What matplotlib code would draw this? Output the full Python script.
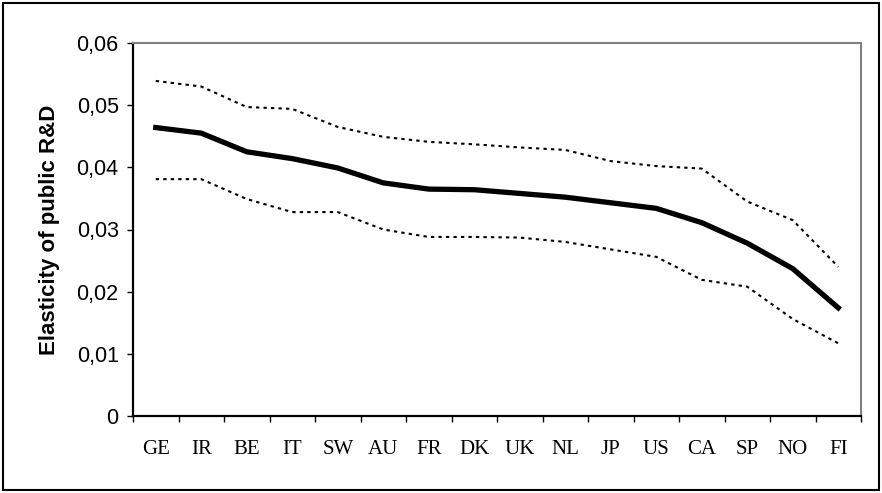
import matplotlib.pyplot as plt
import matplotlib.patches as patches
import numpy as np
from matplotlib.ticker import FuncFormatter, FixedLocator

# Countries ordered by estimated elasticity
countries = ['GE', 'IR', 'BE', 'IT', 'SW', 'AU', 'FR', 'DK',
             'UK', 'NL', 'JP', 'US', 'CA', 'SP', 'NO', 'FI']
elasticity = [0.0464, 0.0455, 0.0425, 0.0414, 0.0399, 0.0375, 0.0365, 0.0364,
              0.0358, 0.0352, 0.0343, 0.0334, 0.0311, 0.0278, 0.0237, 0.0174]
upper_band = [0.0539, 0.0530, 0.0497, 0.0494, 0.0465, 0.0449, 0.0441, 0.0437,
              0.0432, 0.0428, 0.0410, 0.0402, 0.0398, 0.0345, 0.0315, 0.0240]
lower_band = [0.0381, 0.0381, 0.0349, 0.0328, 0.0328, 0.0300, 0.0288, 0.0288,
              0.0287, 0.0280, 0.0268, 0.0256, 0.0219, 0.0208, 0.0156, 0.0117]

fig = plt.figure(figsize=(8.82, 4.93), dpi=100)
ax = fig.add_axes([133 / 882, 1 - 416 / 493, 728 / 882, 373 / 493])

# outer frame of the chart
fig.patches.append(patches.Rectangle((3 / 882, 3 / 493), 876 / 882, 487 / 493,
                                     transform=fig.transFigure, fill=False,
                                     edgecolor='black', linewidth=1.5))

x = np.arange(len(countries))
ax.plot(x, upper_band, color='black', linewidth=1.5, linestyle=(0, (1.6, 2.0)))
ax.plot(x, lower_band, color='black', linewidth=1.5, linestyle=(0, (1.6, 2.0)))
ax.plot(x, elasticity, color='black', linewidth=3.8, solid_joinstyle='round')

ax.set_xlim(-0.5, len(countries) - 0.5)
ax.set_ylim(0, 0.06)
ax.set_yticks(np.arange(0, 0.061, 0.01))
ax.yaxis.set_major_formatter(FuncFormatter(
    lambda v, p: '0' if abs(v) < 1e-9 else f'{v:.2f}'.replace('.', ',')))

# ticks at category boundaries, labels at centres
ax.xaxis.set_major_locator(FixedLocator(np.arange(-0.5, len(countries), 1.0)))
ax.xaxis.set_minor_locator(FixedLocator(x))
ax.set_xticklabels([''] * (len(countries) + 1))
ax.set_xticklabels(countries, minor=True, fontfamily='Liberation Serif', fontsize=15)
ax.tick_params(axis='x', which='major', direction='out', length=4, width=1)
ax.tick_params(axis='x', which='minor', length=0, pad=17)
ax.tick_params(axis='y', direction='out', length=4.3, width=1, pad=6)
for lab in ax.get_yticklabels():
    lab.set_fontfamily('Liberation Sans')
    lab.set_fontsize(15.5)

ax.set_ylabel('Elasticity of public R&D', fontfamily='Liberation Sans',
              fontsize=16, fontweight='bold', labelpad=12)

ax.spines['left'].set_linewidth(1.6)
ax.spines['bottom'].set_linewidth(1.6)
ax.spines['top'].set_color('#808080')
ax.spines['right'].set_color('#808080')
ax.spines['top'].set_linewidth(1.5)
ax.spines['right'].set_linewidth(1.5)

fig.savefig('out.png', dpi=100)
